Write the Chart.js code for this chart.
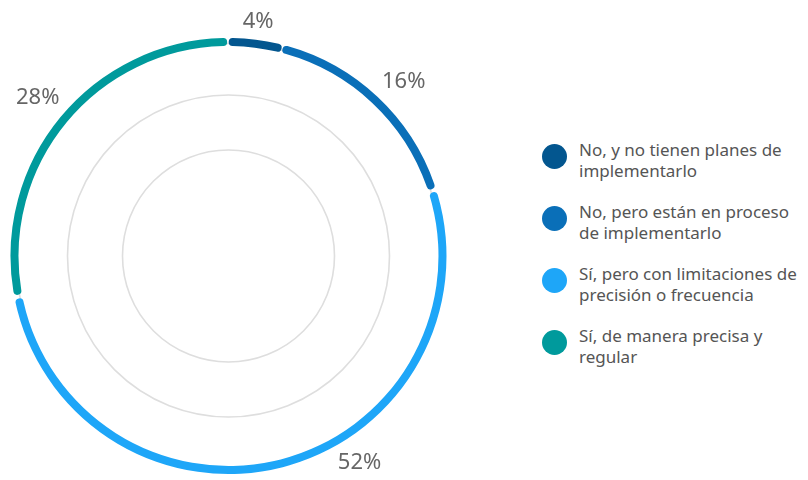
<!DOCTYPE html>
<html lang="es">
<head>
  <meta charset="UTF-8" />
  <title>Implementación</title>
  <script src="https://cdn.jsdelivr.net/npm/chart.js"></script>
  <style>
    body { margin: 0; background: #fff; font-family: "Noto Sans", "Open Sans", sans-serif; }
    #wrap { position: relative; width: 808px; height: 480px; }
    #chartBox { position: absolute; left: 0; top: 0; width: 460px; height: 480px; }
    #legend { position: absolute; left: 542px; top: 139px; width: 266px; }
    .item { display: flex; align-items: flex-start; margin-bottom: 20px; }
    .dot { width: 25px; height: 25px; border-radius: 50%; flex: none; margin-top: 5px; margin-right: 12px; }
    .txt { font-size: 17px; line-height: 21px; color: #555; }
  </style>
</head>
<body>
<div id="wrap">
  <div id="chartBox"><canvas id="dona"></canvas></div>
  <div id="legend"></div>
</div>

<script>
  const categorias = [
    'No, y no tienen planes de implementarlo',
    'No, pero están en proceso de implementarlo',
    'Sí, pero con limitaciones de precisión o frecuencia',
    'Sí, de manera precisa y regular'
  ];
  const valores = [4, 16, 52, 28];
  const etiquetas = ['4%', '16%', '52%', '28%'];
  const colores = ['#03568f', '#0a6fb8', '#1ea6f8', '#009a9c'];

  // Circulos grises de fondo (anillo guia y dos circulos interiores)
  const circulosFondo = {
    id: 'circulosFondo',
    beforeDatasetsDraw(chart) {
      const arc = chart.getDatasetMeta(0).data[0];
      if (!arc) return;
      const { x, y, outerRadius, innerRadius } = arc.getProps(['x', 'y', 'outerRadius', 'innerRadius'], true);
      const c = chart.ctx;
      c.save();
      c.strokeStyle = '#dedede';
      c.lineWidth = 1.6;
      [(outerRadius + innerRadius) / 2, 161, 106].forEach(r => {
        c.beginPath();
        c.arc(x, y, r, 0, Math.PI * 2);
        c.stroke();
      });
      c.restore();
    }
  };

  // Porcentajes fuera del anillo, separados segun el tamaño del texto
  const etiquetasFuera = {
    id: 'etiquetasFuera',
    afterDatasetsDraw(chart, args, opts) {
      const c = chart.ctx;
      c.save();
      c.font = '22px "Noto Sans", "Open Sans", sans-serif';
      c.fillStyle = '#666';
      c.textAlign = 'center';
      c.textBaseline = 'middle';
      chart.getDatasetMeta(0).data.forEach((a, i) => {
        const p = a.getProps(['x', 'y', 'startAngle', 'endAngle', 'outerRadius'], true);
        const ang = (p.startAngle + p.endAngle) / 2 + (opts.desvio[i] || 0) * Math.PI / 180;
        const cx = Math.cos(ang), cy = Math.sin(ang);
        const halfW = c.measureText(etiquetas[i]).width / 2;
        const r = p.outerRadius + opts.distancia + Math.abs(cx) * halfW + Math.abs(cy) * 10;
        c.fillText(etiquetas[i], p.x + r * cx, p.y + r * cy);
      });
      c.restore();
    }
  };

  new Chart(document.getElementById('dona'), {
    type: 'doughnut',
    data: {
      labels: categorias,
      datasets: [{
        data: valores,
        backgroundColor: colores,
        borderWidth: 0,
        borderRadius: 5,
        spacing: 3
      }]
    },
    options: {
      responsive: true,
      maintainAspectRatio: false,
      animation: false,
      cutout: '96.3%',
      layout: { padding: { left: 10, right: 13, top: 38, bottom: 6 } },
      plugins: {
        legend: { display: false },
        tooltip: { enabled: false },
        etiquetasFuera: { distancia: 8, desvio: [0, 2, -18, 0] }
      }
    },
    plugins: [circulosFondo, etiquetasFuera]
  });

  // Leyenda a la derecha
  const leyenda = document.getElementById('legend');
  categorias.forEach((cat, i) => {
    const div = document.createElement('div');
    div.className = 'item';
    div.innerHTML = `<span class="dot" style="background:${colores[i]}"></span><span class="txt">${cat}</span>`;
    leyenda.appendChild(div);
  });
</script>
</body>
</html>
